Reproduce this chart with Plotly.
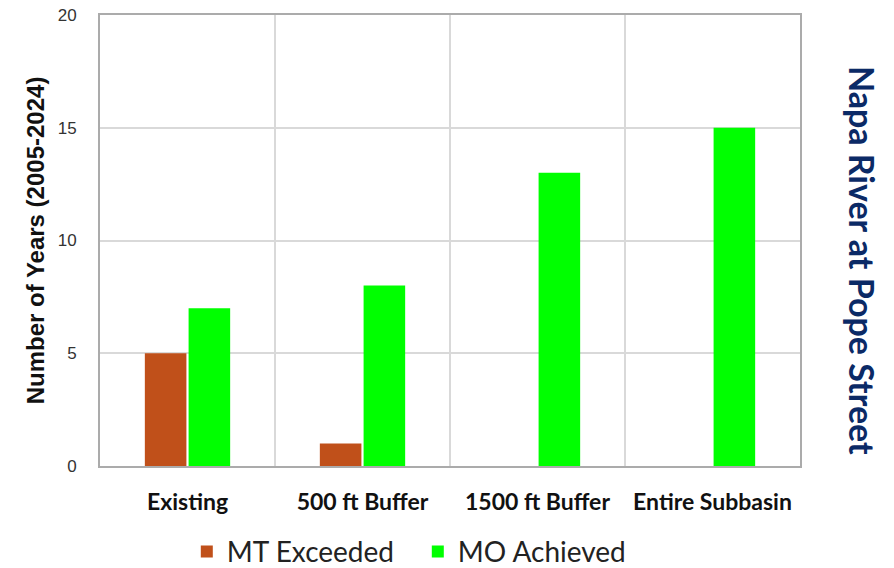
import plotly.graph_objects as go

categories = ["Existing", "500 ft Buffer", "1500 ft Buffer", "Entire Subbasin"]
mt_exceeded = [5, 1, 0, 0]
mo_achieved = [7, 8, 13, 15]
y_ticks = [0, 5, 10, 15, 20]

positions = list(range(len(categories)))
boundaries = [p + 0.5 for p in positions[:-1]]

fig = go.Figure()
fig.add_trace(go.Bar(x=positions, y=mt_exceeded, name="MT Exceeded",
                     marker=dict(color="#C0501A", line=dict(width=0))))
fig.add_trace(go.Bar(x=positions, y=mo_achieved, name="MO Achieved",
                     marker=dict(color="#00FF00", line=dict(width=0))))

fig.update_layout(
    width=894, height=568,
    margin=dict(l=100, r=94, t=15, b=102, autoexpand=False),
    paper_bgcolor="white", plot_bgcolor="white",
    barmode="group", bargap=0.5, bargroupgap=0.05,
    font=dict(family="Lato", color="#000000"),
    legend=dict(orientation="h", x=0.454, xanchor="center", y=-0.19, yanchor="middle",
                font=dict(family="Lato", size=28, color="#222222"),
                itemwidth=30, entrywidth=186, entrywidthmode="pixels",
                traceorder="normal"),
    showlegend=True,
)

fig.update_xaxes(
    range=[-0.5, len(categories) - 0.5],
    tickvals=positions, ticktext=categories,
    tickfont=dict(family="Lato", size=23, color="#111111", weight="bold"),
    showgrid=False, zeroline=False,
    showline=True, linecolor="#ABABAB", linewidth=2, mirror=True,
    ticks="outside", ticklen=14, tickcolor="rgba(0,0,0,0)",
    minor=dict(tickvals=boundaries, showgrid=True, gridcolor="#D9D9D9", gridwidth=1.5,
               ticks=""),
)

fig.update_yaxes(
    range=[0, 20], tickvals=y_ticks,
    tickfont=dict(family="Liberation Sans", size=17, color="#333333"),
    showgrid=True, gridcolor="#D9D9D9", gridwidth=1.5, zeroline=False,
    showline=True, linecolor="#ABABAB", linewidth=2, mirror=True,
    ticks="outside", ticklen=18, tickcolor="rgba(0,0,0,0)",
    title=dict(text="<b>Number of Years (2005-2024)</b>", standoff=6,
               font=dict(family="Liberation Sans", size=24, color="#111111")),
)

fig.add_annotation(
    text="<b>Napa River at Pope Street</b>", textangle=90,
    xref="paper", yref="paper", x=1.0 + 62 / 700, y=0.457,
    xanchor="center", yanchor="middle", showarrow=False,
    font=dict(family="Lato", size=34, color="#0B2A66"),
)

fig.write_html("out.html")
